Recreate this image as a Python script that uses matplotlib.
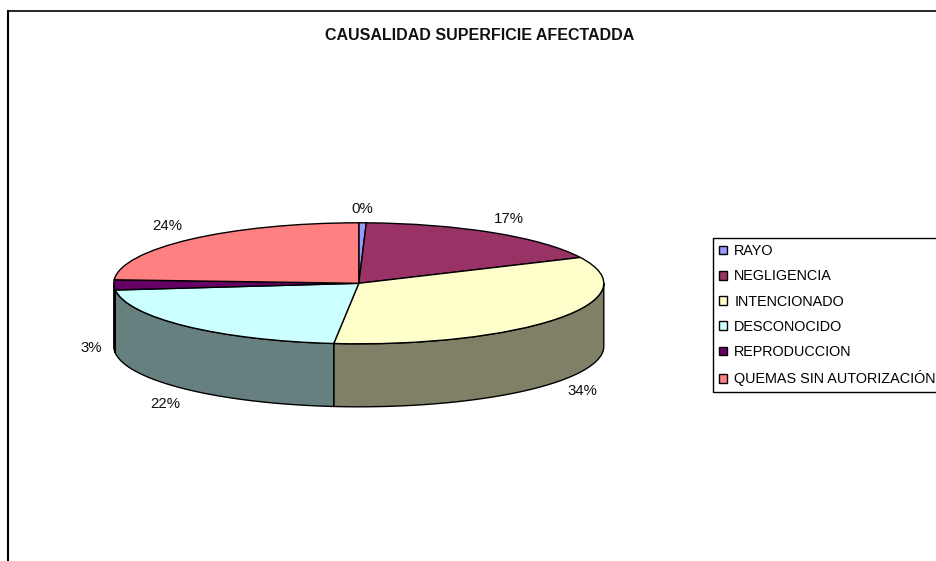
"""3D looking pie of burnt surface by cause."""
import numpy as np
import matplotlib
matplotlib.use('Agg')
import matplotlib.pyplot as plt

categories = ['RAYO', 'NEGLIGENCIA', 'INTENCIONADO', 'DESCONOCIDO', 'REPRODUCCION', 'QUEMAS SIN AUTORIZACIÓN']
values = [0.49, 17.49, 33.65, 21.6, 2.7, 24.07]
colors = ['#9999FF', '#993366', '#FFFFCC', '#CCFFFF', '#660066', '#FF8080']
side_colors = ['#4C4C80', '#4C1933', '#808066', '#668080', '#330033', '#804040']
title = 'CAUSALIDAD SUPERFICIE AFECTADDA'

W, H = 936, 561
CX, CY, RX, RY = 358.8, 283.3, 245.0, 60.5
DEPTH = 63.0 / RY
# small label shifts in pixels, right and down
label_nudge = [(-1, 2), (0, -1), (0, 1), (0, 4), (7, 0), (-3, -2)]

plt.rcParams['font.family'] = ['Liberation Sans', 'DejaVu Sans']

fig = plt.figure(figsize=(W / 100, H / 100), dpi=100)
ax = fig.add_axes([8 / W, 0, (W - 8) / W, (H - 11) / H])

wedges, _, pct_texts = ax.pie(values, colors=colors, startangle=90, counterclock=False,
                              autopct='%.0f%%',
                              wedgeprops={'edgecolor': 'black', 'linewidth': 1.0},
                              textprops={'fontsize': 10.8, 'color': '#111111'})
ax.set_aspect('auto')
ax.set_xlim((8 - CX) / RX, (W - CX) / RX)
ax.set_ylim((CY - H) / RY, (CY - 11) / RY)

# the wall under the front half of the disc
edges = np.cumsum([0] + values) / sum(values) * 2 * np.pi
mids = (edges[:-1] + edges[1:]) / 2
for start, end, side in zip(edges[:-1], edges[1:], side_colors):
    low, high = max(start, np.pi / 2), min(end, 3 * np.pi / 2)
    if low >= high:
        continue
    t = np.linspace(low, high, 120)
    xs = np.concatenate([np.sin(t), np.sin(t[::-1])])
    ys = np.concatenate([np.cos(t), np.cos(t[::-1]) - DEPTH])
    ax.fill(xs, ys, facecolor=side, edgecolor='black', linewidth=1.0, zorder=0.5)

# percent labels sit around the disc, pushed down by the wall in front
for text, mid, nudge in zip(pct_texts, mids, label_nudge):
    y = 1.26 * np.cos(mid)
    if np.cos(mid) < 0:
        y -= DEPTH
    text.set_position((1.12 * np.sin(mid) + nudge[0] / RX, y - nudge[1] / RY))
    text.set_ha('center')
    text.set_va('center')

ax.set_frame_on(True)
ax.spines['right'].set_visible(False)
ax.spines['bottom'].set_visible(False)
ax.spines['left'].set_linewidth(1.5)
ax.spines['top'].set_linewidth(1.2)

fig.text(480 / W, 1 - 36 / H, title, ha='center', va='center', fontsize=11.55, fontweight='bold', color='#111111')

leg = ax.legend(wedges, categories, loc='upper left', bbox_to_anchor=(713 / W, 1 - 238 / H),
                bbox_transform=fig.transFigure, borderaxespad=0, fontsize=10.4,
                fancybox=False, framealpha=1, edgecolor='black',
                handlelength=0.55, handleheight=0.55, handletextpad=0.5,
                labelspacing=0.78, borderpad=0.42)
leg.get_frame().set_linewidth(1.0)

fig.savefig('out.png', dpi=100)
